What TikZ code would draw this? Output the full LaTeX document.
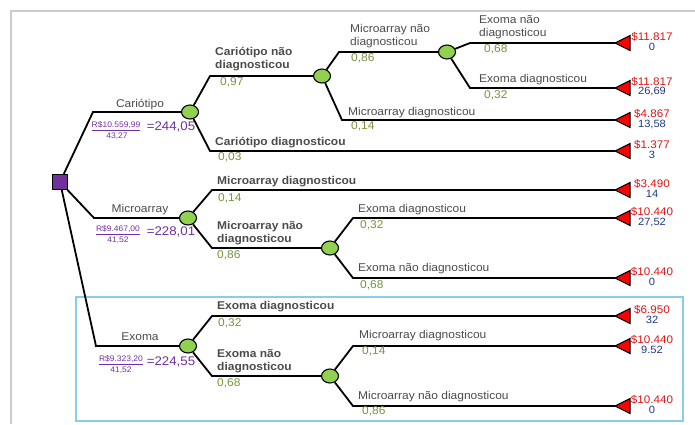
\documentclass[tikz,border=0pt]{standalone}
\usepackage{fontspec}
\setmainfont{Liberation Sans}[FakeStretch=1.06]
\usetikzlibrary{shapes.geometric}
\definecolor{decpurple}{RGB}{112,48,160}
\definecolor{chgreen}{RGB}{146,208,80}
\definecolor{probgreen}{RGB}{119,147,60}
\definecolor{txtgray}{RGB}{75,75,75}
\definecolor{costred}{RGB}{222,20,20}
\definecolor{effblue}{RGB}{31,56,130}
\definecolor{boxblue}{RGB}{135,206,235}

\begin{document}
\begin{tikzpicture}[x=1pt,y=-1pt,
    branch/.style={line width=1.8pt},
    decnode/.style={draw,line width=1.1pt,fill=decpurple,minimum size=15pt,inner sep=0pt},
    chance/.style={draw,ellipse,line width=1.1pt,fill=chgreen,minimum width=17pt,minimum height=14pt,inner sep=0pt},
    lbl/.style={anchor=west,inner sep=0pt,align=left,text=txtgray,font=\fontsize{11.3}{13}\selectfont},
    blbl/.style={lbl,font=\fontsize{11.3}{13}\selectfont\bfseries},
    prob/.style={anchor=west,inner sep=0pt,text=probgreen,font=\fontsize{11.3}{13}\selectfont},
    cost/.style={inner sep=0pt,text=costred,font=\fontsize{11}{12}\selectfont},
    eff/.style={inner sep=0pt,text=effblue,font=\fontsize{10.5}{12}\selectfont},
    small/.style={inner sep=0pt,text=decpurple,font=\fontsize{8}{9}\selectfont},
    ratio/.style={inner sep=0pt,text=decpurple,font=\fontsize{12.5}{14}\selectfont}]

    \useasboundingbox (0,0) rectangle (695,424);

    % Frame
    \draw[gray!40,line width=2pt] (11,424) -- (11,11) -- (695,11);
    \draw[boxblue,line width=1.2pt] (76,297) rectangle (683,421);

    % Decision and chance nodes
    \node[decnode] (dec) at (60,182) {};
    \node[chance] (cario) at (190,112) {};
    \node[chance] (carnd) at (322,76) {};
    \node[chance] (micnd1) at (447,52) {};
    \node[chance] (micro) at (188,218) {};
    \node[chance] (micnd2) at (330,248) {};
    \node[chance] (exoma) at (188,346) {};
    \node[chance] (exond) at (330,376) {};

    % Corners of the branches
    \coordinate (k1) at (93,112);
    \coordinate (k2) at (94,218);
    \coordinate (k3) at (96,346);
    \coordinate (k4) at (210,76);
    \coordinate (k5) at (210,151);
    \coordinate (k6) at (339,52);
    \coordinate (k7) at (342,120);
    \coordinate (k8) at (470,43);
    \coordinate (k9) at (470,88);
    \coordinate (k10) at (212,190);
    \coordinate (k11) at (212,248);
    \coordinate (k12) at (353,218);
    \coordinate (k13) at (353,278);
    \coordinate (k14) at (212,316);
    \coordinate (k15) at (212,376);
    \coordinate (k16) at (353,346);
    \coordinate (k17) at (353,406);

    % Terminal triangles
    \foreach \n/\y in {1/43,2/88,3/120,4/151,5/190,6/218,7/278,8/316,9/346,10/406} {
        \coordinate (t\n) at (615,\y);
        \draw[line width=1.1pt,fill=red] (t\n) -- ++(15,-7.5) -- ++(0,15) -- cycle;
    }

    % Branches
    \draw[branch] (dec) -- (k1) -- (cario);
    \draw[branch] (dec) -- (k2) -- (micro);
    \draw[branch] (dec) -- (k3) -- (exoma);
    \draw[branch] (cario) -- (k4) -- (carnd);
    \draw[branch] (cario) -- (k5) -- (t4);
    \draw[branch] (carnd) -- (k6) -- (micnd1);
    \draw[branch] (carnd) -- (k7) -- (t3);
    \draw[branch] (micnd1) -- (k8) -- (t1);
    \draw[branch] (micnd1) -- (k9) -- (t2);
    \draw[branch] (micro) -- (k10) -- (t5);
    \draw[branch] (micro) -- (k11) -- (micnd2);
    \draw[branch] (micnd2) -- (k12) -- (t6);
    \draw[branch] (micnd2) -- (k13) -- (t7);
    \draw[branch] (exoma) -- (k14) -- (t8);
    \draw[branch] (exoma) -- (k15) -- (exond);
    \draw[branch] (exond) -- (k16) -- (t9);
    \draw[branch] (exond) -- (k17) -- (t10);

    % Strategy labels
    \node[lbl,anchor=center] (lcario) at (140,105) {Cariótipo};
    \node[small] (ccario) at (116,126) {\underline{R\$10.559,99}};
    \node[small] (ecario) at (117,136) {43,27};
    \node[ratio] (rcario) at (171,127) {=244,05};
    \node[lbl,anchor=center] (lmicro) at (140,210) {Microarray};
    \node[small] (cmicro) at (118,230) {\underline{R\$9.467,00}};
    \node[small] (emicro) at (118,240) {41,52};
    \node[ratio] (rmicro) at (171,232) {=228,01};
    \node[lbl,anchor=center] (lexoma) at (140,337) {Exoma};
    \node[small] (cexoma) at (121,360) {\underline{R\$9.323,20}};
    \node[small] (eexoma) at (121,370) {41,52};
    \node[ratio] (rexoma) at (171,362) {=224,55};

    % Outcome labels
    \node[blbl] (l1) at (215,59.5) {Cariótipo não\\diagnosticou};
    \node[prob] (p1) at (220,82) {0,97};
    \node[blbl] (l2) at (215,143) {Cariótipo diagnosticou};
    \node[prob] (p2) at (218,157) {0,03};
    \node[lbl] (l3) at (350,36) {Microarray não\\diagnosticou};
    \node[prob] (p3) at (351,58) {0,86};
    \node[lbl] (l4) at (348,113) {Microarray diagnosticou};
    \node[prob] (p4) at (351,126) {0,14};
    \node[lbl] (l5) at (479,27.5) {Exoma não\\diagnosticou};
    \node[prob] (p5) at (484,49) {0,68};
    \node[lbl] (l6) at (479,80) {Exoma diagnosticou};
    \node[prob] (p6) at (484,95) {0,32};
    \node[blbl] (l7) at (217,182) {Microarray diagnosticou};
    \node[prob] (p7) at (218,198) {0,14};
    \node[blbl] (l8) at (217,233.5) {Microarray não\\diagnosticou};
    \node[prob] (p8) at (217,255) {0,86};
    \node[lbl] (l9) at (358,210) {Exoma diagnosticou};
    \node[prob] (p9) at (360,225) {0,32};
    \node[lbl] (l10) at (358,269) {Exoma não diagnosticou};
    \node[prob] (p10) at (360,285) {0,68};
    \node[blbl] (l11) at (217,307) {Exoma diagnosticou};
    \node[prob] (p11) at (218,323) {0,32};
    \node[blbl] (l12) at (217,361.5) {Exoma não\\diagnosticou};
    \node[prob] (p12) at (217,383) {0,68};
    \node[lbl] (l13) at (359,336) {Microarray diagnosticou};
    \node[prob] (p13) at (362,351) {0,14};
    \node[lbl] (l14) at (358,397) {Microarray não diagnosticou};
    \node[prob] (p14) at (362,411) {0,86};

    % Payoffs
    \foreach \n/\y/\c/\e in {1/43/11.817/0,2/88/11.817/{26,69},3/120/4.867/{13,58},4/151/1.377/3,
        5/190/3.490/14,6/218/10.440/{27,52},7/278/10.440/0,8/316/6.950/32,9/346/10.440/9.52,10/406/10.440/0} {
        \node[cost] (cv\n) at (652,\y-6) {\$\c};
        \node[eff] (ev\n) at (652,\y+4) {\e};
    }

\end{tikzpicture}
\end{document}
